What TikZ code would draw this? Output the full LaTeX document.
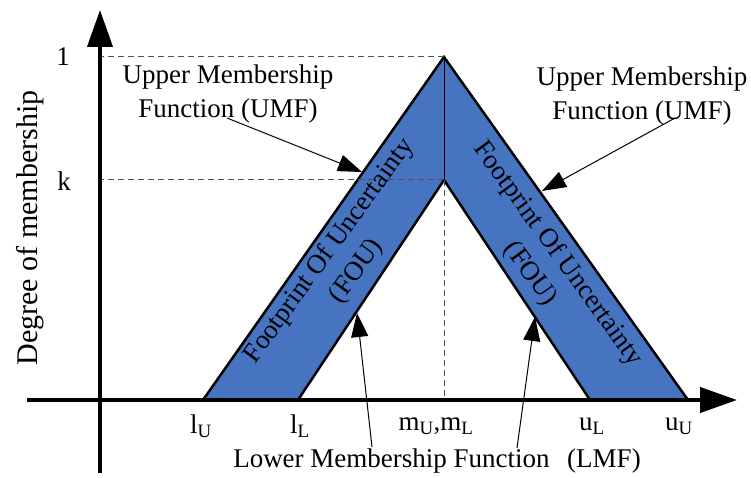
\documentclass[tikz,border=0pt]{standalone}
\usepackage{fontspec}
\setmainfont{Liberation Serif}
\usetikzlibrary{arrows.meta}
\definecolor{foublue}{HTML}{4674C1}
\definecolor{guidegray}{HTML}{505050}

\begin{document}
\begin{tikzpicture}[
  x=1pt,y=-1pt,
  lbl/.style={font=\fontsize{27}{34}\selectfont,inner sep=0pt,align=center},
  axis/.style={line width=4pt,-{Triangle[length=37pt,width=25pt]}},
  band/.style={line width=2.5pt,line join=miter,fill=foublue},
  guide/.style={dash pattern=on 6pt off 4pt,draw=guidegray,line width=1pt},
  pointer/.style={line width=1pt,-{Triangle[length=24pt,width=17pt]}}
]
\useasboundingbox (0,0) rectangle (751,478);
\coordinate (O) at (100,400);
\coordinate (xstart) at (27,400);
\coordinate (xend) at (737,400);
\coordinate (ystart) at (100,473);
\coordinate (yend) at (100,10);
\coordinate (lU) at (203,400);
\coordinate (lL) at (298,400);
\coordinate (mU) at (444,57);
\coordinate (mL) at (444,180);
\coordinate (uL) at (590,400);
\coordinate (uU) at (688,400);
\filldraw[band] (lU) -- (mU) -- (uU) -- (uL) -- (mL) -- (lL) -- cycle;
\draw[line width=1pt] (mU) -- (mL);
\draw[guide] (mU) -- (mU -| O);
\draw[guide] (mL) -- (mL -| O);
\draw[guide] (mL) -- (mL |- O);
\draw[axis] (xstart) -- (xend);
\draw[axis] (ystart) -- (yend);
\node[lbl] (one) at (63,57) {1};
\node[lbl] (k) at (64,181) {k};
\node[lbl,font=\fontsize{30}{36}\selectfont,rotate=90] (ylabel) at (30,228) {Degree of membership};
\node[lbl] (tlU) at (201,426) {l\textsubscript{U}};
\node[lbl] (tlL) at (300,426) {l\textsubscript{L}};
\node[lbl] (tm) at (436,426) {m\textsubscript{U},m\textsubscript{L}};
\node[lbl] (tuL) at (592,426) {u\textsubscript{L}};
\node[lbl] (tuU) at (679,426) {u\textsubscript{U}};
\node[lbl] (umfleft) at (228,94) {Upper Membership\\Function (UMF)};
\node[lbl] (umfright) at (642,96) {Upper Membership\\Function (UMF)};
\node[lbl] (lmf) at (437,461) {Lower Membership Function\hspace{0.4em} (LMF)};
\node[lbl,rotate=54] (fouleft) at (343,261) {Footprint Of Uncertainty\\(FOU)};
\node[lbl,rotate=-54] (fouright) at (544,264) {Footprint Of Uncertainty\\(FOU)};
\coordinate (umfLs) at (227,118);
\coordinate (umfLt) at (362,172);
\coordinate (umfRs) at (675,118);
\coordinate (umfRt) at (542,191);
\coordinate (lmfLs) at (372,447);
\coordinate (lmfLt) at (357,313);
\coordinate (lmfRs) at (517,448);
\coordinate (lmfRt) at (535,317);
\draw[pointer] (umfLs) -- (umfLt);
\draw[pointer] (umfRs) -- (umfRt);
\draw[pointer] (lmfLs) -- (lmfLt);
\draw[pointer] (lmfRs) -- (lmfRt);
\end{tikzpicture}
\end{document}
